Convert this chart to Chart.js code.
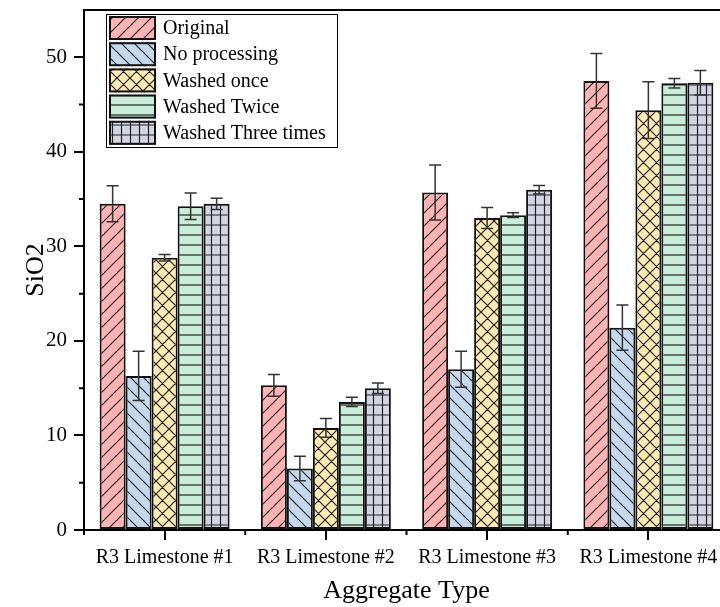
<!DOCTYPE html>
<html>
<head>
<meta charset="utf-8">
<script src="https://cdn.jsdelivr.net/npm/chart.js@4"></script>
<style>
  html, body { margin: 0; padding: 0; background: #fff; overflow: hidden; }
  #wrap { width: 720px; height: 607px; overflow: hidden; }
</style>
</head>
<body>
<div id="wrap"><canvas id="myChart" width="740" height="607"></canvas></div>
<script>
// Data
const categories = ['R3 Limestone #1', 'R3 Limestone #2', 'R3 Limestone #3', 'R3 Limestone #4'];
const seriesNames = ['Original', 'No processing', 'Washed once', 'Washed Twice', 'Washed Three times'];
const original = [34.5, 15.3, 35.7, 47.5];
const originalErr = [1.9, 1.15, 2.9, 2.9];
const noProcessing = [16.3, 6.5, 17.0, 21.4];
const noProcessingErr = [2.6, 1.3, 1.9, 2.4];
const washedOnce = [28.8, 10.8, 33.0, 44.4];
const washedOnceErr = [0.35, 1.0, 1.1, 3.0];
const washedTwice = [34.25, 13.55, 33.3, 47.25];
const washedTwiceErr = [1.4, 0.5, 0.25, 0.5];
const washedThree = [34.5, 15.0, 36.0, 47.3];
const washedThreeErr = [0.6, 0.55, 0.45, 1.3];
const yTicks = [0, 10, 20, 30, 40, 50];

const serif = "'Liberation Serif', 'Times New Roman', serif";

// hatch patterns
function makePattern(bg, w, h, drawLines) {
    const c = document.createElement('canvas');
    c.width = w; c.height = h;
    const g = c.getContext('2d');
    g.fillStyle = bg;
    g.fillRect(0, 0, w, h);
    g.strokeStyle = '#222';
    g.lineWidth = 1.2;
    g.beginPath();
    drawLines(g, w, h);
    g.stroke();
    return document.createElement('canvas').getContext('2d').createPattern(c, 'repeat');
}
const fwd = (g, w, h) => { g.moveTo(-1, h + 1); g.lineTo(w + 1, -1); g.moveTo(-w - 1, h + 1); g.lineTo(1, -1); g.moveTo(w - 1, 2 * h + 1); g.lineTo(2 * w + 1, h - 1); };
const back = (g, w, h) => { g.moveTo(-1, -1); g.lineTo(w + 1, h + 1); g.moveTo(-w - 1, -1); g.lineTo(1, h + 1); g.moveTo(w - 1, -h - 1); g.lineTo(2 * w + 1, 1); };
const patterns = [
    makePattern('#ffb3b3', 13, 13, fwd),
    makePattern('#c4d8ee', 13, 13, back),
    makePattern('#ffebb3', 13, 13, (g, w, h) => { fwd(g, w, h); back(g, w, h); }),
    makePattern('#c8eed9', 10, 10, (g, w, h) => { g.moveTo(0, 5); g.lineTo(w, 5); }),
    makePattern('#d4d4e4', 9, 10, (g, w, h) => { g.moveTo(0, 5); g.lineTo(w, 5); g.moveTo(4.5, 0); g.lineTo(4.5, h); })
];
const values = [original, noProcessing, washedOnce, washedTwice, washedThree];
const errors = [originalErr, noProcessingErr, washedOnceErr, washedTwiceErr, washedThreeErr];

// error bars, minor ticks, frame, legend
const extras = {
    id: 'extras',
    afterDatasetsDraw(chart) {
        const ctx = chart.ctx;
        const y = chart.scales.y;
        ctx.save();
        ctx.strokeStyle = '#333';
        ctx.lineWidth = 1.5;
        chart.data.datasets.forEach((ds, i) => {
            const meta = chart.getDatasetMeta(i);
            meta.data.forEach((bar, j) => {
                const v = ds.data[j], e = errors[i][j];
                const top = y.getPixelForValue(v + e), bot = y.getPixelForValue(v - e);
                ctx.beginPath();
                ctx.moveTo(bar.x, top); ctx.lineTo(bar.x, bot);
                ctx.moveTo(bar.x - 6, top); ctx.lineTo(bar.x + 6, top);
                ctx.moveTo(bar.x - 6, bot); ctx.lineTo(bar.x + 6, bot);
                ctx.stroke();
            });
        });
        ctx.restore();
    },
    afterDraw(chart) {
        const ctx = chart.ctx;
        const area = chart.chartArea;
        const x = chart.scales.x, y = chart.scales.y;
        ctx.save();
        ctx.strokeStyle = '#000';
        ctx.lineWidth = 2;
        ctx.beginPath();
        // top frame
        ctx.moveTo(area.left, area.top); ctx.lineTo(chart.width, area.top);
        // minor y ticks
        for (let v = 5; v < 55; v += 10) {
            const py = y.getPixelForValue(v);
            ctx.moveTo(area.left, py); ctx.lineTo(area.left - 5, py);
        }
        // ticks between categories
        const step = x.getPixelForValue(1) - x.getPixelForValue(0);
        for (let k = 0; k <= categories.length; k++) {
            const px = x.getPixelForValue(0) - step / 2 + k * step;
            ctx.moveTo(px, area.bottom); ctx.lineTo(px, area.bottom + 5);
        }
        ctx.stroke();

        // legend
        const lx = 106, ly = 14, lw = 231, lh = 133;
        ctx.fillStyle = '#fff';
        ctx.fillRect(lx, ly, lw, lh);
        ctx.lineWidth = 1;
        ctx.strokeRect(lx + 0.5, ly + 0.5, lw, lh);
        ctx.font = '20px ' + serif;
        ctx.textBaseline = 'middle';
        ctx.textAlign = 'left';
        seriesNames.forEach((name, i) => {
            const sy = 16 + i * 26.2;
            ctx.fillStyle = patterns[i];
            ctx.fillRect(109, sy, 47, 24);
            ctx.lineWidth = 2;
            ctx.strokeStyle = '#111';
            ctx.strokeRect(110, sy + 1, 45, 22);
            ctx.fillStyle = '#000';
            ctx.fillText(name, 163, sy + 13);
        });
        ctx.restore();
    }
};

const datasets = seriesNames.map((name, i) => ({
    label: name,
    data: values[i],
    backgroundColor: patterns[i],
    borderColor: '#111',
    borderWidth: 2,
    borderSkipped: false,
    categoryPercentage: 0.806,
    barPercentage: 1
}));

new Chart(document.getElementById('myChart'), {
    type: 'bar',
    data: { labels: categories, datasets: datasets },
    options: {
        responsive: false,
        animation: false,
        devicePixelRatio: 1,
        layout: { padding: { top: 10, right: 11, left: 0, bottom: 0 } },
        plugins: { legend: { display: false }, tooltip: { enabled: false } },
        scales: {
            x: {
                grid: { display: true, drawOnChartArea: false, offset: false, tickLength: 10, color: '#000', lineWidth: 2 },
                border: { display: true, color: '#000', width: 2 },
                ticks: { color: '#000', font: { family: serif, size: 20 }, padding: 6, maxRotation: 0 },
                title: { display: true, text: 'Aggregate Type', color: '#000', font: { family: serif, size: 26 }, padding: 0 },
                afterFit: (s) => { s.height = 77; s.paddingLeft = 0; s.paddingRight = 0; }
            },
            y: {
                min: 0,
                max: 55,
                afterBuildTicks: (s) => { s.ticks = yTicks.map(v => ({ value: v })); },
                grid: { display: true, drawOnChartArea: false, tickLength: 10, color: '#000', lineWidth: 2 },
                border: { display: true, color: '#000', width: 2 },
                ticks: { color: '#000', font: { family: serif, size: 21 }, padding: 7 },
                title: { display: true, text: 'SiO2', color: '#000', font: { family: serif, size: 26 }, padding: { top: 21, bottom: 0 } },
                afterFit: (s) => { s.width = 84; s.paddingTop = 0; s.paddingBottom = 0; }
            }
        }
    },
    plugins: [extras]
});
</script>
</body>
</html>
